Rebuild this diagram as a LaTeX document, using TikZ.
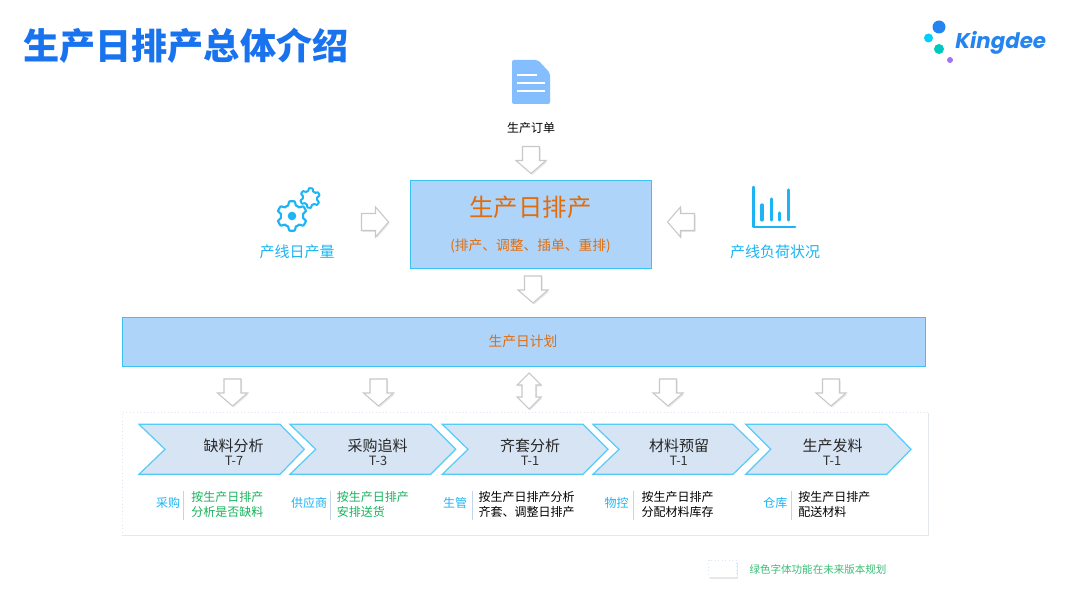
\documentclass[tikz,border=0pt]{standalone}
\usepackage{fontspec}
\usetikzlibrary{shadows}
\setmainfont{Noto Sans CJK SC}
\newfontfamily\logofont{Poppins}
\definecolor{titleblue}{HTML}{1A73EE}
\definecolor{iconblue}{HTML}{1CB4F5}
\definecolor{docblue}{HTML}{85BEFF}
\definecolor{boxfill}{HTML}{AED4F9}
\definecolor{boxline}{HTML}{3CC3F5}
\definecolor{chevfill}{HTML}{D6E4F4}
\definecolor{chevline}{HTML}{55CBFA}
\definecolor{orangetxt}{HTML}{E36C0A}
\definecolor{greentxt}{HTML}{17B35C}
\definecolor{panelline}{HTML}{DDE6F4}
\definecolor{sepline}{HTML}{C5D5E8}
\definecolor{arrowline}{HTML}{C8C8C8}
\definecolor{dotblue}{HTML}{2585F0}
\definecolor{dotcyan}{HTML}{00CFFA}
\definecolor{dotteal}{HTML}{00C8BC}
\definecolor{dotviolet}{HTML}{A274F2}
\tikzset{
  softshadow/.style={drop shadow={shadow xshift=0.9pt,shadow yshift=-1.1pt,opacity=0.09,fill=black}},
  blockstyle/.style={draw=arrowline,line width=0.8pt,fill=white,softshadow,line join=miter},
  bandbox/.style={draw=boxline,line width=0.7pt,fill=boxfill},
  chev/.style={draw=chevline,line width=0.9pt,fill=chevfill,line join=miter},
  sepstyle/.style={draw=sepline,line width=0.6pt},
  panel/.style={draw=panelline,line width=0.6pt,dotted,fill=white,softshadow},
  chevname/.style={font=\fontsize{11.25}{13}\selectfont,text=black!85,inner sep=0pt},
  chevtime/.style={font=\fontsize{9.6}{11}\selectfont,text=black!80,inner sep=0pt},
  role/.style={font=\fontsize{9}{11}\selectfont,text=iconblue,inner sep=0pt},
  detail/.style={font=\fontsize{9}{11.25}\selectfont,align=left,anchor=west,inner sep=0pt},
  icontxt/.style={font=\fontsize{11.25}{13}\selectfont,text=iconblue,inner sep=0pt},
  bdown/.pic={\path[blockstyle] (-8.5,-13.5) -- (8.5,-13.5) -- (8.5,0.5) -- (15,0.5) -- (0,13.5) -- (-15,0.5) -- (-8.5,0.5) -- cycle;},
  bdouble/.pic={\path[blockstyle] (0,-18) -- (12,-6) -- (7,-6) -- (7,6) -- (12,6) -- (0,18) -- (-12,6) -- (-7,6) -- (-7,-6) -- (-12,-6) -- cycle;}
}
\begin{document}
\begin{tikzpicture}[x=0.75pt,y=-0.75pt]
\useasboundingbox[fill=white] (0,0) rectangle (1080,606);
% title
\node[anchor=west,inner sep=0pt,text=titleblue,font=\fontsize{27.1}{30}\bfseries\selectfont] (title) at (23,46) {生产日排产总体介绍};
% logo
\fill[dotblue] (939,27) circle (6.5);
\fill[dotcyan] (928.5,38) circle (4.5);
\fill[dotteal] (939,49) circle (5);
\fill[dotviolet] (950,60) circle (3);
\node[anchor=west,inner sep=0pt,text=dotblue,font=\logofont\fontsize{16}{20}\bfseries\itshape\selectfont] (logo) at (955,42.5) {Kingdee};
% doc icon
\fill[docblue,rounded corners=1.5pt] (512,60) -- (538,60) -- (550,73) -- (550,104) -- (512,104) -- cycle;
\draw[white,line width=1.9pt] (517,75) -- (537,75) (517,83) -- (545,83) (517,91) -- (545,91);
\node[inner sep=0pt,font=\fontsize{9}{11}\selectfont] (order) at (531,128) {生产订单};
% gears
\draw[iconblue,line width=1.6pt,line join=round] plot[domain=0:360,samples=145] ({292+13*(1+0.14*max(-1,min(1,2*cos(6*\x+180))))*cos(\x)},{216+13*(1+0.14*max(-1,min(1,2*cos(6*\x+180))))*sin(\x)}) -- cycle;
\fill[iconblue] (292,216) circle (4.3);
\draw[iconblue,line width=1.5pt,line join=round] plot[domain=0:360,samples=145] ({310+8.5*(1+0.15*max(-1,min(1,2*cos(6*\x+150))))*cos(\x)},{198+8.5*(1+0.15*max(-1,min(1,2*cos(6*\x+150))))*sin(\x)}) -- cycle;
\node[icontxt] (capacity) at (297,252) {产线日产量};
% chart icon
\draw[iconblue,line width=2.2pt,line cap=round,line join=round] (753.5,187) -- (753.5,227) -- (795,227);
\draw[iconblue,line width=2.4pt,line cap=round] (762,205) -- (762,220) (771.5,199) -- (771.5,220) (779.5,213) -- (779.5,220) (788.5,190) -- (788.5,220);
\node[icontxt] (load) at (775,252) {产线负荷状况};
% main box
\node[bandbox,minimum width=241*0.75pt,minimum height=88*0.75pt,inner sep=0pt] (main) at (530.5,224) {};
\node[inner sep=0pt,text=orangetxt,font=\fontsize{18.3}{21}\selectfont] (maintitle) at (530.5,207) {生产日排产};
\node[inner sep=0pt,text=orangetxt,font=\fontsize{10.3}{12}\selectfont] (mainsub) at (530.5,246) {(排产、调整、插单、重排)};
% band
\node[bandbox,minimum width=803*0.75pt,minimum height=49*0.75pt,inner sep=0pt] (plan) at (523.5,341.5) {};
\node[inner sep=0pt,text=orangetxt,font=\fontsize{10.3}{12}\selectfont] (plantxt) at (523,341) {生产日计划};
% block arrows
\pic at (531,160) {bdown};
\pic at (533,289.5) {bdown};
\pic[rotate=90] at (375,222) {bdown};
\pic[rotate=-90] at (681,222) {bdown};
\pic at (232.5,392.5) {bdown};
\pic at (378.5,392.5) {bdown};
\pic at (529,391) {bdouble};
\pic at (668,392.5) {bdown};
\pic at (831,392.5) {bdown};
% panel
\node[panel,minimum width=806*0.75pt,minimum height=123*0.75pt,inner sep=0pt] (stage) at (525,473.5) {};
% chevrons
\path[chev] (139,424.3) -- (280,424.3) -- (304.3,449.3) -- (280,474.3) -- (139,474.3) -- (165,449.3) -- cycle;
\path[chev] (290,424.3) -- (430.7,424.3) -- (455.7,449.3) -- (430.7,474.3) -- (290,474.3) -- (315.7,449.3) -- cycle;
\path[chev] (442.3,424.3) -- (583,424.3) -- (608,449.3) -- (583,474.3) -- (442.3,474.3) -- (468,449.3) -- cycle;
\path[chev] (593,424.3) -- (733,424.3) -- (758.7,449.3) -- (733,474.3) -- (593,474.3) -- (619,449.3) -- cycle;
\path[chev] (745.7,424.3) -- (886.7,424.3) -- (911,449.3) -- (886.7,474.3) -- (745.7,474.3) -- (770.7,449.3) -- cycle;
% chevron labels
\node[chevname] (n1) at (233.7,446) {缺料分析};
\node[chevtime] (t1) at (234,461) {T-7};
\node[chevname] (n2) at (377.7,446) {采购追料};
\node[chevtime] (t2) at (378,461) {T-3};
\node[chevname] (n3) at (530,446) {齐套分析};
\node[chevtime] (t3) at (530,461) {T-1};
\node[chevname] (n4) at (679,446) {材料预留};
\node[chevtime] (t4) at (678.7,461) {T-1};
\node[chevname] (n5) at (832.5,446) {生产发料};
\node[chevtime] (t5) at (832,461) {T-1};
% roles, separators, details
\node[role] (r1) at (168,503) {采购};
\draw[sepstyle] (183.5,490.7) -- (183.5,520);
\node[detail,text=greentxt] (d1) at (191,504.5) {按生产日排产\\分析是否缺料};
\node[role] (r2) at (309,503) {供应商};
\draw[sepstyle] (330.3,490.7) -- (330.3,520);
\node[detail,text=greentxt] (d2) at (336.7,504.5) {按生产日排产\\安排送货};
\node[role] (r3) at (455,503) {生管};
\draw[sepstyle] (472.3,490.7) -- (472.3,520);
\node[detail,text=black] (d3) at (478.3,504.5) {按生产日排产分析\\齐套、调整日排产};
\node[role] (r4) at (616.7,503) {物控};
\draw[sepstyle] (633.3,490.7) -- (633.3,520);
\node[detail,text=black] (d4) at (641.3,504.5) {按生产日排产\\分配材料库存};
\node[role] (r5) at (775.3,503) {仓库};
\draw[sepstyle] (791.7,490.7) -- (791.7,520);
\node[detail,text=black] (d5) at (798,504.5) {按生产日排产\\配送材料};
% legend
\node[panel,minimum width=28*0.75pt,minimum height=17*0.75pt,inner sep=0pt] (legendbox) at (722.5,568.7) {};
\node[anchor=west,inner sep=0pt,text=greentxt!85!white,font=\fontsize{7.9}{10}\selectfont] (legend) at (749.3,569.3) {绿色字体功能在未来版本规划};
\end{tikzpicture}
\end{document}
